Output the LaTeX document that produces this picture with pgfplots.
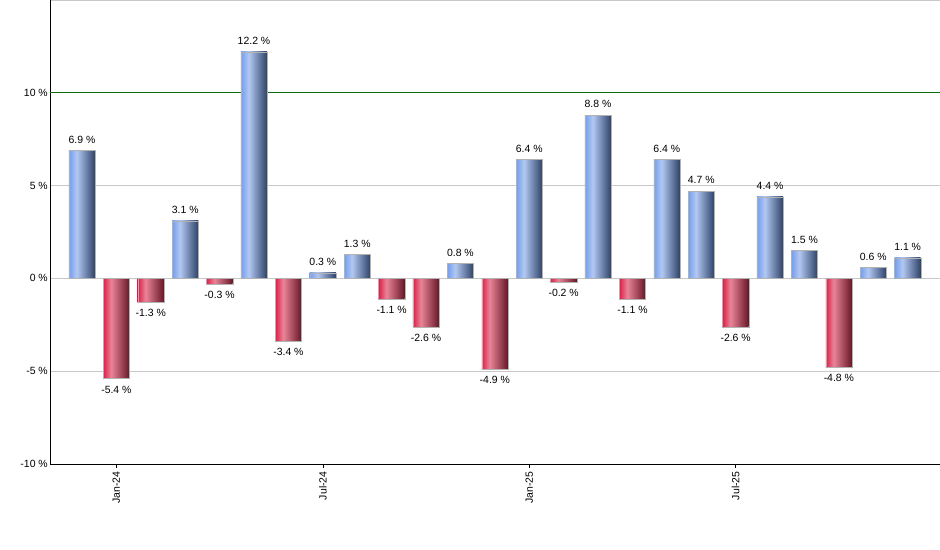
\documentclass[border=0pt]{standalone}
\usepackage{fontspec}
\setmainfont{Liberation Sans}
\usepackage{pgfplots}
\pgfplotsset{compat=1.18}
\definecolor{bluel}{HTML}{739EEE}
\definecolor{bluem}{HTML}{B2C8F2}
\definecolor{blued}{HTML}{2E4268}
\definecolor{redl}{HTML}{DE1F48}
\definecolor{redm}{HTML}{EA8498}
\definecolor{redd}{HTML}{661626}
\definecolor{refgreen}{HTML}{0A6E0A}
\definecolor{gridgray}{HTML}{C8C8C8}
\pgfdeclarehorizontalshading{bluebar}{100bp}{color(0bp)=(bluel); color(25bp)=(bluel); color(40bp)=(bluem); color(75bp)=(blued); color(100bp)=(blued)}
\pgfdeclarehorizontalshading{redbar}{100bp}{color(0bp)=(redl); color(25bp)=(redl); color(40bp)=(redm); color(75bp)=(redd); color(100bp)=(redd)}

\begin{document}
\begin{tikzpicture}
\useasboundingbox (0,0) rectangle (940bp,550bp);
\begin{axis}[
  at={(50bp,86bp)}, anchor=south west,
  scale only axis,
  width=890bp, height=464bp,
  ybar, bar width=0.76, bar shift=0pt,
  xmin=-0.93, xmax=24.94,
  ymin=-10, ymax=15,
  axis lines=left,
  axis line style={-, black, line width=0.8pt},
  xtick={1,7,13,19},
  xticklabels={Jan-24,Jul-24,Jan-25,Jul-25},
  x tick label style={rotate=90, anchor=east, font=\fontsize{10.5}{12}\selectfont},
  ytick={-10,-5,0,5,15},
  yticklabels={-10~\%,-5~\%,0~\%,5~\%,{}},
  extra y ticks={10},
  extra y tick labels={10~\%},
  extra y tick style={major grid style={refgreen, line width=0.8pt}},
  y tick label style={font=\fontsize{10.5}{12}\selectfont, inner sep=1bp, xshift=3bp},
  ymajorgrids,
  major grid style={gridgray, line width=0.6pt},
  tick style={black, line width=0.6pt},
  tick align=outside,
  major tick length=4bp,
  y tick style={draw=none},
  xtick pos=bottom, ytick pos=left,
  /pgf/number format/assume math mode=true,
  nodes near coords={\pgfmathprintnumber[fixed,fixed zerofill,precision=1]{\pgfplotspointmeta}~\%},
  nodes near coords align={vertical},
  nodes near coords style={font=\fontsize{10.5}{12}\selectfont, black, inner sep=7bp},
  clip=false,
  up/.style={shading=bluebar, draw=gray!60, line width=0.3pt},
  down/.style={shading=redbar, draw=gray!60, line width=0.3pt},
]
% one plot per bar, so that each bar gets its own shading
\addplot[up]   coordinates {(0,6.9)};
\addplot[down] coordinates {(1,-5.4)};
\addplot[down] coordinates {(2,-1.3)};
\addplot[up]   coordinates {(3,3.1)};
\addplot[down] coordinates {(4,-0.3)};
\addplot[up]   coordinates {(5,12.2)};
\addplot[down] coordinates {(6,-3.4)};
\addplot[up]   coordinates {(7,0.3)};
\addplot[up]   coordinates {(8,1.3)};
\addplot[down] coordinates {(9,-1.1)};
\addplot[down] coordinates {(10,-2.6)};
\addplot[up]   coordinates {(11,0.8)};
\addplot[down] coordinates {(12,-4.9)};
\addplot[up]   coordinates {(13,6.4)};
\addplot[down] coordinates {(14,-0.2)};
\addplot[up]   coordinates {(15,8.8)};
\addplot[down] coordinates {(16,-1.1)};
\addplot[up]   coordinates {(17,6.4)};
\addplot[up]   coordinates {(18,4.7)};
\addplot[down] coordinates {(19,-2.6)};
\addplot[up]   coordinates {(20,4.4)};
\addplot[up]   coordinates {(21,1.5)};
\addplot[down] coordinates {(22,-4.8)};
\addplot[up]   coordinates {(23,0.6)};
\addplot[up]   coordinates {(24,1.1)};
\end{axis}
\end{tikzpicture}
\end{document}
